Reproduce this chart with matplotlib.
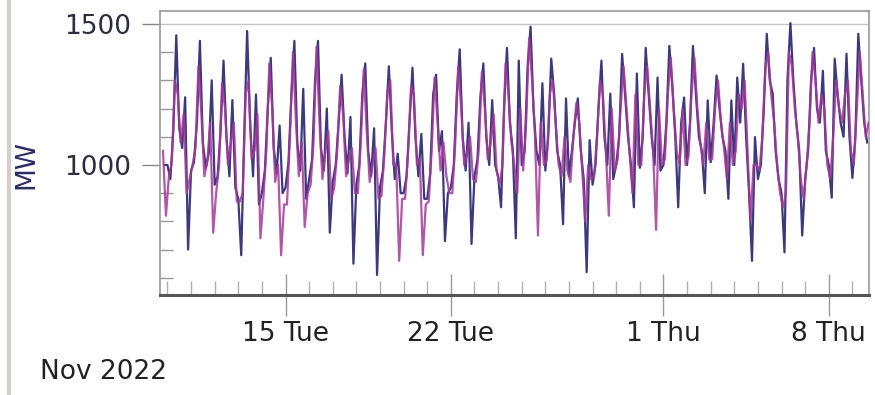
import numpy as np
import pandas as pd
import matplotlib
matplotlib.use("Agg")
import matplotlib.pyplot as plt
import matplotlib.dates as mdates
from matplotlib.lines import Line2D
from matplotlib.ticker import MultipleLocator, FixedLocator

# values, 3-hourly, one row per day (MW)
# navy series: 00,03,06,09,12,15,18,21 h
navy_rows = [
    [1000],                                              # Nov 9 (from 21h)
    [1000, 950, 1120, 1460, 1130, 1060, 1240, 700],      # Nov 10
    [980, 1010, 1150, 1440, 1080, 990, 1040, 1300],
    [930, 960, 1120, 1370, 1100, 960, 1230, 920],
    [880, 680, 1100, 1475, 1150, 960, 1250, 860],
    [900, 980, 1200, 1380, 1060, 970, 1140, 900],
    [920, 1010, 1250, 1440, 1080, 980, 1270, 880],       # Nov 15
    [950, 1020, 1300, 1440, 1060, 980, 1200, 760],
    [940, 1000, 1150, 1320, 1100, 970, 1170, 650],
    [930, 1000, 1250, 1360, 1050, 960, 1130, 610],
    [920, 980, 1150, 1350, 1120, 950, 1040, 900],
    [900, 960, 1150, 1345, 1100, 960, 1110, 880],        # Nov 20
    [880, 970, 1250, 1320, 1050, 1120, 730, 900],
    [920, 1000, 1250, 1410, 1100, 980, 1150, 720],
    [960, 1020, 1240, 1360, 1100, 1000, 1230, 1000],
    [960, 850, 1200, 1415, 1150, 1050, 740, 1370],
    [1000, 1050, 1350, 1490, 1200, 1050, 1000, 1290],    # Nov 25
    [980, 1100, 1377, 1250, 1050, 1000, 790, 1236],
    [960, 1050, 1150, 1236, 1050, 950, 620, 1088],
    [930, 1000, 1200, 1370, 1100, 1000, 1253, 950],
    [1000, 1100, 1394, 1250, 1100, 1000, 850, 1324],
    [990, 1100, 1415, 1250, 1100, 1000, 1310, 980],      # Nov 30
    [1000, 1150, 1422, 1280, 1100, 850, 1150, 1239],     # Dec 1
    [1000, 1150, 1422, 1250, 1100, 1050, 900, 1229],
    [1010, 1150, 1317, 1200, 1100, 1050, 880, 1229],
    [1000, 1310, 1150, 1359, 1100, 900, 660, 1099],
    [950, 1000, 1200, 1465, 1300, 1253, 1050, 950],      # Dec 5
    [900, 690, 1300, 1503, 1300, 1150, 1050, 750],
    [950, 1050, 1300, 1415, 1200, 1150, 1334, 1050],
    [1000, 884, 1377, 1250, 1150, 1100, 1394, 1100],
    [954, 1100, 1465, 1300, 1150, 1080],                 # Dec 9
]

# magenta series: 01:30, 04:30, ... 22:30 h
magenta_rows = [
    [1050, 820],                                         # Nov 9 (from 19:30)
    [960, 1010, 1300, 1250, 1080, 1180, 900, 950],       # Nov 10
    [1000, 1060, 1350, 1180, 960, 1010, 1150, 760],
    [900, 1000, 1290, 1200, 1000, 1080, 1150, 870],
    [870, 900, 1250, 1300, 1020, 1050, 1180, 740],
    [880, 1050, 1360, 1200, 940, 1000, 680, 860],
    [860, 1100, 1400, 1160, 960, 1080, 780, 900],        # Nov 15
    [930, 1080, 1420, 1150, 950, 1050, 1120, 880],
    [920, 1050, 1280, 1180, 960, 1020, 1060, 900],
    [900, 1080, 1340, 1120, 940, 1000, 1060, 880],
    [890, 1040, 1260, 1300, 1000, 1000, 660, 880],
    [880, 1040, 1280, 1250, 1000, 1020, 680, 860],       # Nov 20
    [870, 1050, 1310, 1150, 980, 1080, 960, 900],
    [900, 1080, 1350, 1200, 1000, 1040, 1100, 950],
    [940, 1060, 1330, 1200, 1020, 1080, 1180, 980],
    [930, 1000, 1360, 1250, 1080, 1000, 900, 1200],
    [980, 1150, 1450, 1300, 1100, 750, 1150, 1000],      # Nov 25
    [1020, 1250, 1300, 1150, 1000, 960, 1100, 980],
    [940, 1100, 1220, 1150, 980, 800, 1000, 950],
    [960, 1100, 1300, 1250, 1050, 820, 1200, 980],
    [1020, 1200, 1350, 1200, 1050, 900, 1250, 1000],
    [1000, 1250, 1350, 1200, 1050, 770, 1200, 1000],     # Nov 30
    [1020, 1250, 1380, 1200, 1050, 1000, 1200, 1000],    # Dec 1
    [1030, 1250, 1380, 1200, 1080, 1000, 1150, 1020],
    [1020, 1200, 1300, 1150, 1060, 950, 1150, 1000],
    [1050, 1250, 1200, 1300, 1050, 800, 1000, 1000],
    [980, 1100, 1350, 1400, 1250, 1150, 1000, 900],      # Dec 5
    [850, 900, 1400, 1350, 1200, 1100, 950, 880],
    [1000, 1150, 1400, 1300, 1150, 1250, 1200, 1000],
    [950, 1100, 1300, 1200, 1150, 1250, 1300, 1050],
    [1000, 1200, 1400, 1250, 1100, 1150],                # Dec 9
]

tick_dates = ["2022-11-15", "2022-11-22", "2022-12-01", "2022-12-08"]
tick_labels = ["15 Tue", "22 Tue", "1 Thu", "8 Thu"]

navy = np.concatenate([np.array(r, dtype=float) for r in navy_rows])
magenta = np.concatenate([np.array(r, dtype=float) for r in magenta_rows])
t_navy = pd.date_range("2022-11-09 21:00", periods=len(navy), freq="3h")
t_mag = pd.date_range("2022-11-09 19:30", periods=len(magenta), freq="3h")

plt.rcParams["font.family"] = ["DejaVu Sans"]

fig = plt.figure(figsize=(8.75, 3.95), dpi=100)
ax = fig.add_axes([0.1829, 0.2532, 0.8102, 0.7190])

ax.axhline(1500, color="#c4c4c4", lw=1.0, zorder=1)
ax.plot(t_navy, navy, color="#26246e", lw=1.6, alpha=0.9, zorder=2)
ax.plot(t_mag, magenta, color="#a4389a", lw=1.6, alpha=0.85, zorder=3)

ax.set_xlim(pd.Timestamp("2022-11-09 16:30"), pd.Timestamp("2022-12-09 16:50"))
ax.set_ylim(539, 1546)

# y axis
ax.set_yticks([1000, 1500])
ax.yaxis.set_minor_locator(MultipleLocator(100))
ax.tick_params(axis="y", which="major", direction="out", length=13, width=1,
               color="#888888", labelsize=19, labelcolor="#2c2c44", pad=8)
ax.tick_params(axis="y", which="minor", direction="in", length=9, width=1,
               color="#9a9a9a")
ax.set_ylabel("MW", fontsize=19, color="#2b2b6b")
ax.yaxis.set_label_coords(-0.170, 0.46)

# x axis
ax.xaxis.set_major_locator(FixedLocator(mdates.date2num(pd.to_datetime(tick_dates))))
ax.set_xticklabels(tick_labels)
ax.xaxis.set_minor_locator(mdates.DayLocator())
ax.tick_params(axis="x", which="major", direction="inout", length=30, width=1,
               color="#999999", labelsize=19, labelcolor="#222222", pad=4)
ax.tick_params(axis="x", which="minor", direction="in", length=10, width=1,
               color="#b0b0b0")

for side in ["top", "left", "right"]:
    ax.spines[side].set_color("#9a9a9a")
    ax.spines[side].set_linewidth(1.2)
ax.spines["bottom"].set_color("#555555")
ax.spines["bottom"].set_linewidth(2.2)

fig.text(0.046, 0.058, "Nov 2022", fontsize=19, color="#222222",
         ha="left", va="center")

# grey border of the surrounding panel
fig.add_artist(Line2D([0.010, 0.010], [0, 1], transform=fig.transFigure,
                      color="#d6cfc8", lw=3))

fig.savefig("out.png", dpi=100)
